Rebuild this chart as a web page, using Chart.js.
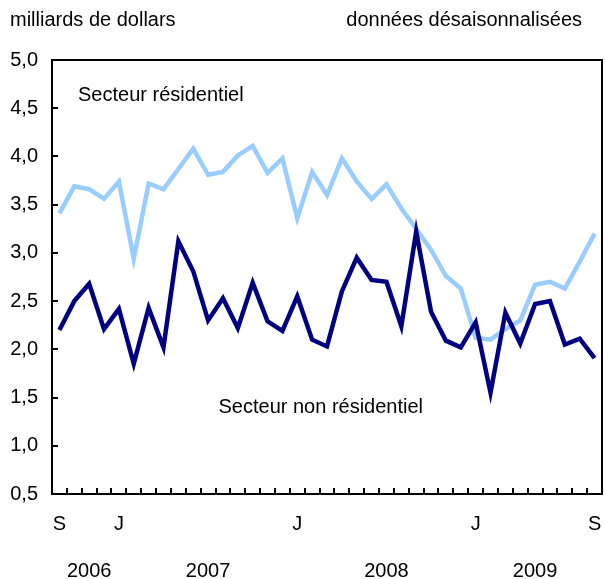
<!DOCTYPE html>
<html>
<head>
<meta charset="utf-8">
<script src="https://cdn.jsdelivr.net/npm/chart.js@4"></script>
<style>
  html, body { margin: 0; padding: 0; background: #fff; }
</style>
</head>
<body>
<canvas id="myChart" width="605" height="579"></canvas>
<script>
// Sep 2006 .. Sep 2009, monthly
const months = [
    'S', 'O', 'N', 'D',
    'J', 'F', 'M', 'A', 'M', 'J', 'J', 'A', 'S', 'O', 'N', 'D',
    'J', 'F', 'M', 'A', 'M', 'J', 'J', 'A', 'S', 'O', 'N', 'D',
    'J', 'F', 'M', 'A', 'M', 'J', 'J', 'A', 'S'
];
const shownMonths = [0, 4, 16, 28, 36];
const years = ['2006', '2007', '2008', '2009'];
const yearTicks = [2, 10, 22, 32];

const residentiel = [
    3.41, 3.69, 3.66, 3.56, 3.74, 2.94, 3.72, 3.66, 3.87, 4.08, 3.81, 3.84,
    4.01, 4.11, 3.83, 3.98, 3.36, 3.84, 3.60, 3.98, 3.74, 3.56, 3.71, 3.46,
    3.25, 3.03, 2.76, 2.63, 2.12, 2.10, 2.21, 2.30, 2.67, 2.70, 2.63, 2.91,
    3.20
];
const nonResidentiel = [
    2.20, 2.50, 2.68, 2.21, 2.42, 1.85, 2.43, 2.02, 3.12, 2.81, 2.30, 2.53,
    2.22, 2.69, 2.29, 2.19, 2.55, 2.10, 2.03, 2.60, 2.95, 2.72, 2.70, 2.24,
    3.22, 2.39, 2.09, 2.02, 2.28, 1.55, 2.38, 2.06, 2.47, 2.50, 2.05, 2.11,
    1.91
];

Chart.defaults.font.family = "'Liberation Sans', Arial, sans-serif";
Chart.defaults.font.size = 20;
Chart.defaults.color = '#000';

// frame + free text
const decorations = {
    id: 'decorations',
    afterDraw(chart) {
        const { ctx, chartArea: a, scales } = chart;
        ctx.save();
        ctx.strokeStyle = '#000';
        ctx.lineWidth = 2;
        ctx.strokeRect(a.left, a.top, a.right - a.left, a.bottom - a.top);

        ctx.fillStyle = '#000';
        ctx.font = "20px 'Liberation Sans', Arial, sans-serif";
        ctx.textBaseline = 'middle';
        ctx.textAlign = 'left';
        ctx.fillText('milliards de dollars', 10, 20);
        ctx.textAlign = 'right';
        ctx.fillText('données désaisonnalisées', 582, 20);

        ctx.textAlign = 'left';
        ctx.fillText('Secteur résidentiel', scales.x.getPixelForValue(1.25), scales.y.getPixelForValue(4.63));
        ctx.fillText('Secteur non résidentiel', scales.x.getPixelForValue(10.7), scales.y.getPixelForValue(1.40));
        ctx.restore();
    }
};

const ctx = document.getElementById('myChart');

const data = {
    labels: months,
    datasets: [
        {
            label: 'Secteur non résidentiel',
            data: nonResidentiel,
            borderColor: '#000080',
            borderWidth: 4.5,
            pointRadius: 0,
            tension: 0
        }, {
            label: 'Secteur résidentiel',
            data: residentiel,
            borderColor: '#99ccff',
            borderWidth: 4.5,
            pointRadius: 0,
            tension: 0
        }
    ]
};

const config = {
    type: 'line',
    data: data,
    options: {
        responsive: false,
        animation: false,
        devicePixelRatio: 1,
        layout: { padding: { top: 60, right: 3, left: 0, bottom: 0 } },
        plugins: { legend: { display: false }, tooltip: { enabled: false } },
        scales: {
            x: {
                offset: true,
                grid: {
                    offset: true,
                    drawOnChartArea: false,
                    tickLength: -6,
                    color: '#000',
                    lineWidth: 2
                },
                border: { display: false },
                ticks: {
                    autoSkip: false,
                    maxRotation: 0,
                    padding: 25,
                    font: { size: 20, lineHeight: 1.175 },
                    callback: function (value, index) {
                        const lines = [shownMonths.includes(index) ? months[index] : ''];
                        const y = yearTicks.indexOf(index);
                        if (y >= 0) lines.push('', years[y]);
                        return lines;
                    }
                },
                afterFit: function (scale) {
                    scale.height = 85;
                    scale.paddingLeft = 0;
                    scale.paddingRight = 0;
                }
            },
            y: {
                min: 0.5,
                max: 5,
                grid: {
                    drawOnChartArea: false,
                    tickLength: -6,
                    color: '#000',
                    lineWidth: 2
                },
                border: { display: false },
                ticks: {
                    stepSize: 0.5,
                    padding: 20,
                    callback: v => v.toFixed(1).replace('.', ',')
                },
                afterFit: function (scale) { scale.width = 52; }
            }
        }
    },
    plugins: [decorations]
};

const myChart = new Chart(ctx, config);
</script>
</body>
</html>
